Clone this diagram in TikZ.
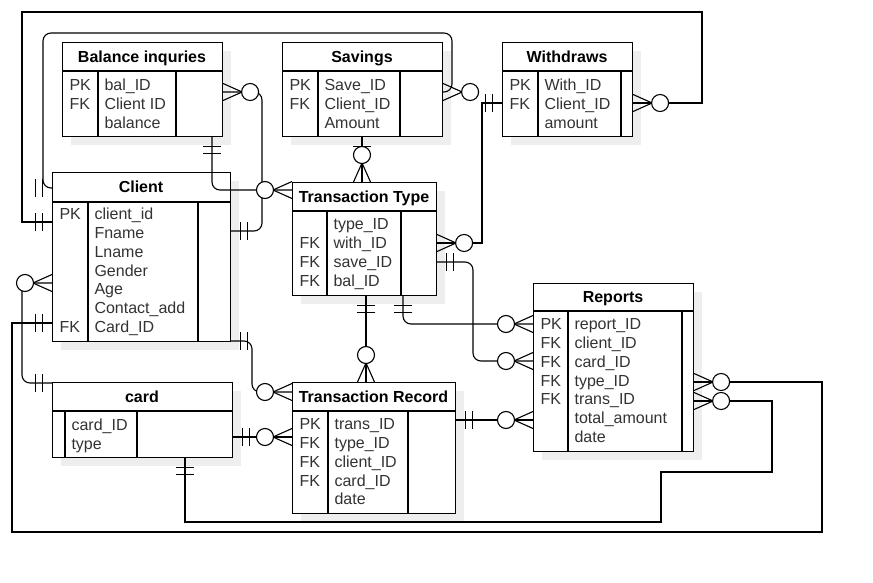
\documentclass[tikz,border=0pt]{standalone}
\usepackage{fontspec}
\setmainfont{Liberation Sans}
\usetikzlibrary{calc}

\definecolor{shadowgray}{HTML}{EEEEEE}
\definecolor{textgray}{HTML}{333333}

% entity box: name, left, top, right, bottom, header line, divider 1, divider 2, title
\newcommand\ertable[9]{%
  \fill[shadowgray] (#2+9,#3+9) rectangle (#4+9,#5+9);
  \node[entity,minimum width=#4-#2,minimum height=#5-#3] (#1) at (#2,#3) {};
  \draw (#2,#6) -- (#4,#6) (#7,#6) -- (#7,#5) (#8,#6) -- (#8,#5);
  \node[etitle] (#1-title) at ({(#2+#4)/2},{(#3+#6)/2}) {#9};
}
% rows: name, left, divider 1, first row, key/field list
\newcommand\errows[5]{%
  \foreach \k/\f [count=\i from 0] in {#5} {
    \node[ekey] (#1-k\i) at (#2+7,#4+18.8*\i) {\k};
    \node[ekey] (#1-f\i) at (#3+6,#4+18.8*\i) {\f};
  }
}

\tikzset{
  mone/.pic={\draw (9.5,-9) -- (9.5,9) (16.5,-9) -- (16.5,9);},
  zmany/.pic={\draw (19,0) -- (0,-8.5) (19,0) -- (0,8.5);
    \draw[fill=white] (27,0) circle[radius=8.5pt];},
}

\begin{document}
\begin{tikzpicture}[
    x=1pt,y=-1pt,line width=1.1pt,
    entity/.style={draw,fill=white,anchor=north west,inner sep=0pt},
    etitle/.style={font=\fontsize{16}{19}\selectfont\bfseries,inner sep=0pt,
      text height=11.5pt,text depth=0pt},
    ekey/.style={font=\fontsize{16}{19}\selectfont,anchor=west,inner sep=0pt,
      text height=11.5pt,text depth=0pt,text=textgray},
    link/.style={rounded corners=8pt}]
  \useasboundingbox (0,0) rectangle (873,583);

  % tables
  \ertable{balance}{62}{42}{222}{136}{71}{98}{176}{Balance inquries}
  \errows{balance}{62}{98}{85}{PK/bal\_ID, FK/Client ID, /balance}
  \ertable{savings}{282}{42}{442}{136}{71}{318}{400}{Savings}
  \errows{savings}{282}{318}{85}{PK/Save\_ID, FK/Client\_ID, /Amount}
  \ertable{withdraws}{502}{42}{632}{136}{71}{538}{621}{Withdraws}
  \errows{withdraws}{502}{538}{85}{PK/With\_ID, FK/Client\_ID, /amount}
  \ertable{client}{52}{172}{230}{341}{202}{88}{198}{Client}
  \errows{client}{52}{88}{214}{PK/client\_id, /Fname, /Lname, /Gender, /Age, /Contact\_add, FK/Card\_ID}
  \ertable{ttype}{292}{182}{436}{295}{211}{327}{401}{Transaction Type}
  \errows{ttype}{292}{327}{224}{/type\_ID, FK/with\_ID, FK/save\_ID, FK/bal\_ID}
  \ertable{reports}{533}{283}{693}{451}{311}{568}{682}{Reports}
  \errows{reports}{533}{568}{324}{PK/report\_ID, FK/client\_ID, FK/card\_ID, FK/type\_ID, FK/trans\_ID, /total\_amount, /date}
  \ertable{card}{52}{382}{232}{457}{411}{65}{137}{card}
  \errows{card}{52}{65}{425}{/card\_ID, /type}
  \ertable{trecord}{292}{382}{455}{513}{411}{328}{408}{Transaction Record}
  \errows{trecord}{292}{328}{424}{PK/trans\_ID, FK/type\_ID, FK/client\_ID, FK/card\_ID, /date}

  % relations
  \draw[link] (balance.east |- 0,92) -- (262,92) -- (262,231) -- (client.east |- 0,231);
  \draw[link] (balance.south -| 212,0) -- (212,190) -- (ttype.west |- 0,190);
  \draw[link] (savings.east |- 0,92) -- (452,92) -- (452,33) -- (43,33) -- (43,188) -- (client.west |- 0,188);
  \draw (savings.south -| 362,0) -- (ttype.north -| 362,0);
  \draw (withdraws.east |- 0,103) -- (702,103) -- (702,12) -- (22,12) -- (22,222) -- (client.west |- 0,222);
  \draw (ttype.east |- 0,243) -- (482,243) -- (482,103) -- (withdraws.west |- 0,103);
  \draw[link] (client.west |- 0,283) -- (22,283) -- (22,383) -- (card.west |- 0,383);
  \draw[link] (client.east |- 0,341) -- (252,341) -- (252,392) -- (trecord.west |- 0,392);
  \draw (card.east |- 0,437) -- (trecord.west |- 0,437);
  \draw (card.south -| 185,0) -- (185,522) -- (661,522) -- (661,472) -- (772,472) -- (772,401) -- (reports.east |- 0,401);
  \draw (client.west |- 0,323) -- (12,323) -- (12,532) -- (822,532) -- (822,382) -- (reports.east |- 0,382);
  \draw (ttype.south -| 366,0) -- (trecord.north -| 366,0);
  \draw[link] (ttype.south -| 403,0) -- (403,324) -- (reports.west |- 0,324);
  \draw[link] (ttype.east |- 0,262) -- (473,262) -- (473,361) -- (reports.west |- 0,361);
  \draw (trecord.east |- 0,420) -- (reports.west |- 0,420);

  % ends
  \pic at (balance.east |- 0,92) {zmany};
  \pic at (client.east |- 0,231) {mone};
  \pic[rotate=-90] at (balance.south -| 212,0) {mone};
  \pic[rotate=180] at (ttype.west |- 0,190) {zmany};
  \pic at (savings.east |- 0,92) {zmany};
  \pic[rotate=180] at (client.west |- 0,188) {mone};
  \pic[rotate=-90] at (savings.south -| 362,0) {mone};
  \pic[rotate=90] at (ttype.north -| 362,0) {zmany};
  \pic at (withdraws.east |- 0,103) {zmany};
  \pic[rotate=180] at (client.west |- 0,222) {mone};
  \pic at (ttype.east |- 0,243) {zmany};
  \pic[rotate=180] at (withdraws.west |- 0,103) {mone};
  \pic[rotate=180] at (client.west |- 0,283) {zmany};
  \pic[rotate=180] at (card.west |- 0,383) {mone};
  \pic at (client.east |- 0,341) {mone};
  \pic[rotate=180] at (trecord.west |- 0,392) {zmany};
  \pic at (card.east |- 0,437) {mone};
  \pic[rotate=180] at (trecord.west |- 0,437) {zmany};
  \pic[rotate=-90] at (card.south -| 185,0) {mone};
  \pic at (reports.east |- 0,401) {zmany};
  \pic[rotate=180] at (client.west |- 0,323) {mone};
  \pic at (reports.east |- 0,382) {zmany};
  \pic[rotate=-90] at (ttype.south -| 366,0) {mone};
  \pic[rotate=90] at (trecord.north -| 366,0) {zmany};
  \pic[rotate=-90] at (ttype.south -| 403,0) {mone};
  \pic[rotate=180] at (reports.west |- 0,324) {zmany};
  \pic at (ttype.east |- 0,262) {mone};
  \pic[rotate=180] at (reports.west |- 0,361) {zmany};
  \pic at (trecord.east |- 0,420) {mone};
  \pic[rotate=180] at (reports.west |- 0,420) {zmany};
\end{tikzpicture}
\end{document}
